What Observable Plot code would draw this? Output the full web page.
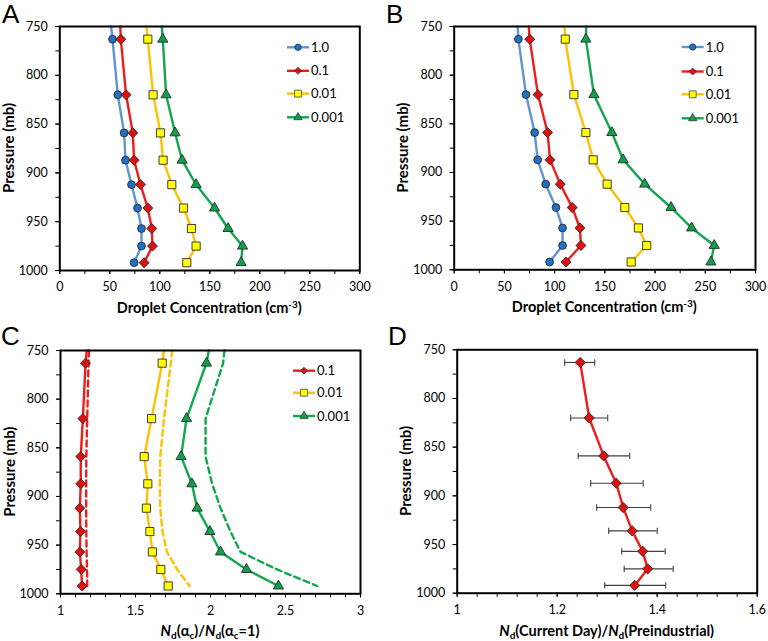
<!DOCTYPE html>
<html>
<head>
<meta charset="utf-8">
<script src="https://cdn.jsdelivr.net/npm/d3@7"></script>
<script src="https://cdn.jsdelivr.net/npm/@observablehq/plot@0.6"></script>
<style>
  body { margin: 0; background: #fff; }
  #wrap { position: relative; width: 768px; height: 641px; overflow: hidden; }
  .panel { position: absolute; }
  .panel svg { max-width: none; overflow: visible; }
</style>
</head>
<body>
<div id="wrap"></div>
<script>
// ---------------- data ----------------
const PRESSURE = [763, 820, 859, 887, 912, 936, 957, 975, 992];
const TOP_P = 750;
const SERIES = ["1.0", "0.1", "0.01", "0.001"];

// Panel A: droplet concentration (cm-3)
const A_1    = [52.7, 58.0, 64.3, 65.7, 71.7, 77.7, 81.7, 81.7, 74.3];
const A_01   = [61.0, 66.3, 73.0, 74.3, 80.7, 88.0, 92.0, 92.7, 84.3];
const A_001  = [88.0, 93.3, 100.7, 103.3, 112.0, 123.7, 131.7, 136.3, 127.0];
const A_0001 = [103.0, 106.3, 115.3, 122.3, 136.3, 154.7, 168.3, 182.7, 181.3];
const A_TOP  = [51.3, 60.5, 86.7, 102.0];   // line values at 750 mb

// Panel B: droplet concentration (cm-3)
const B_1    = [63.9, 71.5, 80.1, 83.1, 91.1, 101.3, 107.9, 107.9, 95.0];
const B_01   = [75.2, 83.4, 93.0, 95.4, 105.6, 117.5, 125.2, 126.2, 111.3];
const B_001  = [110.6, 119.2, 131.1, 138.4, 152.3, 169.9, 183.4, 191.7, 176.2];
const B_0001 = [131.1, 139.1, 157.0, 168.2, 189.7, 215.9, 236.4, 258.9, 255.6];
const B_TOP  = [63.2, 74.2, 110.0, 131.5];

// Panel C: Nd(ac)/Nd(ac=1), solid (with markers) and dashed
const C_SERIES = ["0.1", "0.01", "0.001"];
const C_01   = [1.167, 1.149, 1.135, 1.135, 1.129, 1.133, 1.129, 1.138, 1.144];
const C_001  = [1.678, 1.607, 1.558, 1.582, 1.573, 1.596, 1.613, 1.669, 1.718];
const C_0001 = [1.973, 1.840, 1.804, 1.876, 1.911, 1.996, 2.067, 2.240, 2.453];
const C_TOP  = [1.175, 1.689, 1.989];
const C_DASH_P    = [750, 763, 820, 859, 887, 912, 936, 957, 975, 992];
const C_DASH_01   = [1.190, 1.187, 1.178, 1.172, 1.171, 1.171, 1.172, 1.174, 1.177, 1.178];
const C_DASH_001  = [1.744, 1.735, 1.690, 1.665, 1.662, 1.665, 1.680, 1.710, 1.778, 1.860];
const C_DASH_0001 = [2.093, 2.084, 1.967, 1.967, 2.011, 2.067, 2.133, 2.200, 2.444, 2.711];

// Panel D: Nd(current day)/Nd(preindustrial) with error bars
const D_VAL = [1.246, 1.264, 1.293, 1.318, 1.332, 1.350, 1.371, 1.381, 1.355];
const D_LO  = [1.215, 1.227, 1.242, 1.267, 1.279, 1.303, 1.329, 1.334, 1.295];
const D_HI  = [1.275, 1.301, 1.345, 1.372, 1.387, 1.400, 1.416, 1.432, 1.417];

// ticks
const Y_TICKS = [750, 800, 850, 900, 950, 1000];
const Y_MINOR = [750, 775, 800, 825, 850, 875, 900, 925, 950, 975, 1000];
const AB_X_TICKS = [0, 50, 100, 150, 200, 250, 300];
const AB_X_MINOR = [0, 25, 50, 75, 100, 125, 150, 175, 200, 225, 250, 275, 300];
const C_X_TICKS = [1, 1.5, 2, 2.5, 3];
const C_X_MINOR = [1, 1.1, 1.2, 1.3, 1.4, 1.5, 1.6, 1.7, 1.8, 1.9, 2, 2.1, 2.2, 2.3, 2.4, 2.5, 2.6, 2.7, 2.8, 2.9, 3];
const D_X_TICKS = [1, 1.2, 1.4, 1.6];
const D_X_MINOR = [1, 1.04, 1.08, 1.12, 1.16, 1.2, 1.24, 1.28, 1.32, 1.36, 1.4, 1.44, 1.48, 1.52, 1.56, 1.6];

// ---------------- styles ----------------
const FONT = "Lato, 'Open Sans', sans-serif";
const STYLE = {
  "1.0":   {line: "#5f95d4", fill: "#1f72c6", symbol: "circle",   r: 3.9, lr: 3.2},
  "0.1":   {line: "#f01c1c", fill: "#e01010", symbol: "diamond2", r: 4.5, lr: 3.2},
  "0.01":  {line: "#ffc000", fill: "#ffff00", symbol: "square",   r: 4.6, lr: 3.9},
  "0.001": {line: "#12a64f", fill: "#10a04c", symbol: "triangle", r: 3.8, lr: 3.1}
};
const SYM = {circle: d3.symbolCircle, diamond2: d3.symbolDiamond2, square: d3.symbolSquare, triangle: d3.symbolTriangle};

function rows(vals) { return PRESSURE.map((p, i) => ({p, v: vals[i]})); }
function lineRows(top, vals) { return [{p: TOP_P, v: top}, ...rows(vals)]; }

function seriesMarks(name, top, vals, extra = {}) {
  const s = STYLE[name];
  return [
    Plot.line(lineRows(top, vals), {x: "v", y: "p", stroke: s.line, strokeWidth: 2.4, ...extra}),
    Plot.dot(rows(vals), {x: "v", y: "p", symbol: s.symbol, r: s.r, fill: s.fill, stroke: "#2a2a2a", strokeWidth: 0.9})
  ];
}

function makePanel(cfg) {
  const plot = Plot.plot({
    width: cfg.w, height: cfg.h,
    marginLeft: cfg.mL, marginRight: cfg.mR, marginTop: cfg.mT, marginBottom: cfg.mB,
    style: {fontFamily: FONT, fontSize: "12.5px", color: "#000", background: "transparent"},
    x: {domain: cfg.xDomain, label: null},
    y: {domain: [750, 1000], reverse: true, label: null},
    marks: [
      Plot.axisY({ticks: Y_MINOR, tickSize: 4, tickFormat: () => "", label: null, stroke: "#000"}),
      Plot.axisY({ticks: Y_TICKS, tickSize: 4, tickPadding: 8, tickFormat: d => String(d), label: null, stroke: "#000"}),
      Plot.axisX({ticks: cfg.xMinor, tickSize: 4, tickFormat: () => "", label: null, stroke: "#000"}),
      Plot.axisX({ticks: cfg.xTicks, tickSize: 4, tickPadding: 8, tickFormat: d => String(d), label: null, stroke: "#000"}),
      ...cfg.marks,
      Plot.frame({stroke: "#000", strokeWidth: 2})
    ]
  });
  const div = document.createElement("div");
  div.className = "panel";
  div.style.left = cfg.left + "px";
  div.style.top = cfg.top + "px";
  div.appendChild(plot);
  document.getElementById("wrap").appendChild(div);

  const svg = d3.select(plot);
  const x0 = cfg.mL, x1 = cfg.w - cfg.mR, y0 = cfg.mT, y1 = cfg.h - cfg.mB;
  // panel letter
  svg.append("text").attr("x", cfg.letterX).attr("y", cfg.letterY)
    .attr("text-anchor", "start")
    .attr("font-family", "'Liberation Sans', Arial, sans-serif").attr("font-size", 26).attr("fill", "#000")
    .text(cfg.letter);
  // y title
  svg.append("text")
    .attr("transform", `translate(${x0 - 50.5},${(y0 + y1) / 2}) rotate(-90)`)
    .attr("text-anchor", "middle").attr("dy", "0.35em")
    .attr("font-family", FONT).attr("font-weight", "bold").attr("font-size", 15).attr("fill", "#000")
    .text("Pressure (mb)");
  // x title
  const xt = svg.append("text")
    .attr("x", (x0 + x1) / 2).attr("y", y1 + 43)
    .attr("text-anchor", "middle")
    .attr("font-family", FONT).attr("font-weight", "bold").attr("font-size", 14.5).attr("fill", "#000");
  cfg.xTitle.forEach(part => {
    const t = xt.append("tspan").text(part.t);
    if (part.i) t.attr("font-style", "italic");
    if (part.sub) t.attr("font-size", 10).attr("baseline-shift", "-3");
    if (part.sup) t.attr("font-size", 10).attr("baseline-shift", "5");
  });
  // legend
  if (cfg.legend) {
    const g = svg.append("g");
    cfg.legend.names.forEach((name, i) => {
      const s = STYLE[name];
      const y = cfg.legend.y[i];
      const lx0 = cfg.legend.x, lx1 = cfg.legend.x + 22;
      g.append("line").attr("x1", lx0).attr("x2", lx1).attr("y1", y).attr("y2", y)
        .attr("stroke", s.line).attr("stroke-width", 2.4);
      g.append("path").attr("d", d3.symbol(SYM[s.symbol], Math.PI * s.lr * s.lr)())
        .attr("transform", `translate(${(lx0 + lx1) / 2},${y})`)
        .attr("fill", s.fill).attr("stroke", "#2a2a2a").attr("stroke-width", 0.7);
      g.append("text").attr("x", lx1 + 2).attr("y", y).attr("dy", "0.36em")
        .attr("text-anchor", "start")
        .attr("font-family", FONT).attr("font-size", 13).attr("fill", "#000").text(name);
    });
  }
}

const DROPLET_TITLE = [{t: "Droplet Concentration (cm"}, {t: "-3", sup: true}, {t: ")"}];

// Panel A
makePanel({
  left: 0, top: 0, w: 384, h: 320, mL: 59.3, mR: 24.7, mT: 26, mB: 50,
  xDomain: [0, 300], xTicks: AB_X_TICKS, xMinor: AB_X_MINOR,
  letter: "A", letterX: 2, letterY: 23,
  xTitle: DROPLET_TITLE,
  legend: {names: SERIES, x: 287, y: [47.3, 70.8, 93.6, 117.3]},
  marks: [
    ...seriesMarks("1.0", A_TOP[0], A_1),
    ...seriesMarks("0.1", A_TOP[1], A_01),
    ...seriesMarks("0.01", A_TOP[2], A_001),
    ...seriesMarks("0.001", A_TOP[3], A_0001)
  ]
});

// Panel B
makePanel({
  left: 384, top: 0, w: 384, h: 320, mL: 69.7, mR: 13, mT: 26, mB: 50.7,
  xDomain: [0, 300], xTicks: AB_X_TICKS, xMinor: AB_X_MINOR,
  letter: "B", letterX: 2, letterY: 23,
  xTitle: DROPLET_TITLE,
  legend: {names: SERIES, x: 297.7, y: [47, 71.5, 94.3, 118.3]},
  marks: [
    ...seriesMarks("1.0", B_TOP[0], B_1),
    ...seriesMarks("0.1", B_TOP[1], B_01),
    ...seriesMarks("0.01", B_TOP[2], B_001),
    ...seriesMarks("0.001", B_TOP[3], B_0001)
  ]
});

// Panel C
const dashRows = vals => C_DASH_P.map((p, i) => ({p, v: vals[i]}));
makePanel({
  left: 0, top: 320, w: 384, h: 321, mL: 60, mR: 24, mT: 30, mB: 47.7,
  xDomain: [1, 3], xTicks: C_X_TICKS, xMinor: C_X_MINOR,
  letter: "C", letterX: 1, letterY: 25,
  xTitle: [{t: "N", i: true}, {t: "d", sub: true}, {t: "(α"}, {t: "c", sub: true}, {t: ")/"},
           {t: "N", i: true}, {t: "d", sub: true}, {t: "(α"}, {t: "c", sub: true}, {t: "=1)"}],
  legend: {names: C_SERIES, x: 293, y: [50.7, 72.7, 96]},
  marks: [
    Plot.line(dashRows(C_DASH_01), {x: "v", y: "p", stroke: STYLE["0.1"].line, strokeWidth: 2.4, strokeDasharray: "6,4"}),
    Plot.line(dashRows(C_DASH_001), {x: "v", y: "p", stroke: STYLE["0.01"].line, strokeWidth: 2.4, strokeDasharray: "6,4"}),
    Plot.line(dashRows(C_DASH_0001), {x: "v", y: "p", stroke: STYLE["0.001"].line, strokeWidth: 2.4, strokeDasharray: "6,4"}),
    ...seriesMarks("0.1", C_TOP[0], C_01),
    ...seriesMarks("0.01", C_TOP[1], C_001),
    ...seriesMarks("0.001", C_TOP[2], C_0001)
  ]
});

// Panel D
const capSymbol = {draw(ctx) { ctx.moveTo(0, -3.2); ctx.lineTo(0, 3.2); }};
const dRows = PRESSURE.map((p, i) => ({p, v: D_VAL[i], lo: D_LO[i], hi: D_HI[i]}));
makePanel({
  left: 384, top: 320, w: 384, h: 321, mL: 72.7, mR: 11.3, mT: 29.3, mB: 48.3,
  xDomain: [1, 1.6], xTicks: D_X_TICKS, xMinor: D_X_MINOR,
  letter: "D", letterX: 4, letterY: 25,
  xTitle: [{t: "N", i: true}, {t: "d", sub: true}, {t: "(Current Day)/"},
           {t: "N", i: true}, {t: "d", sub: true}, {t: "(Preindustrial)"}],
  marks: [
    Plot.line(dRows, {x: "v", y: "p", stroke: STYLE["0.1"].line, strokeWidth: 2.4}),
    Plot.ruleY(dRows, {y: "p", x1: "lo", x2: "hi", stroke: "#404040", strokeWidth: 1.1}),
    Plot.dot(dRows, {x: "lo", y: "p", symbol: capSymbol, fill: "none", stroke: "#404040", strokeWidth: 1.1}),
    Plot.dot(dRows, {x: "hi", y: "p", symbol: capSymbol, fill: "none", stroke: "#404040", strokeWidth: 1.1}),
    Plot.dot(dRows, {x: "v", y: "p", symbol: "diamond2", r: 4.6, fill: STYLE["0.1"].fill, stroke: "#2a2a2a", strokeWidth: 0.9})
  ]
});
</script>
</body>
</html>
